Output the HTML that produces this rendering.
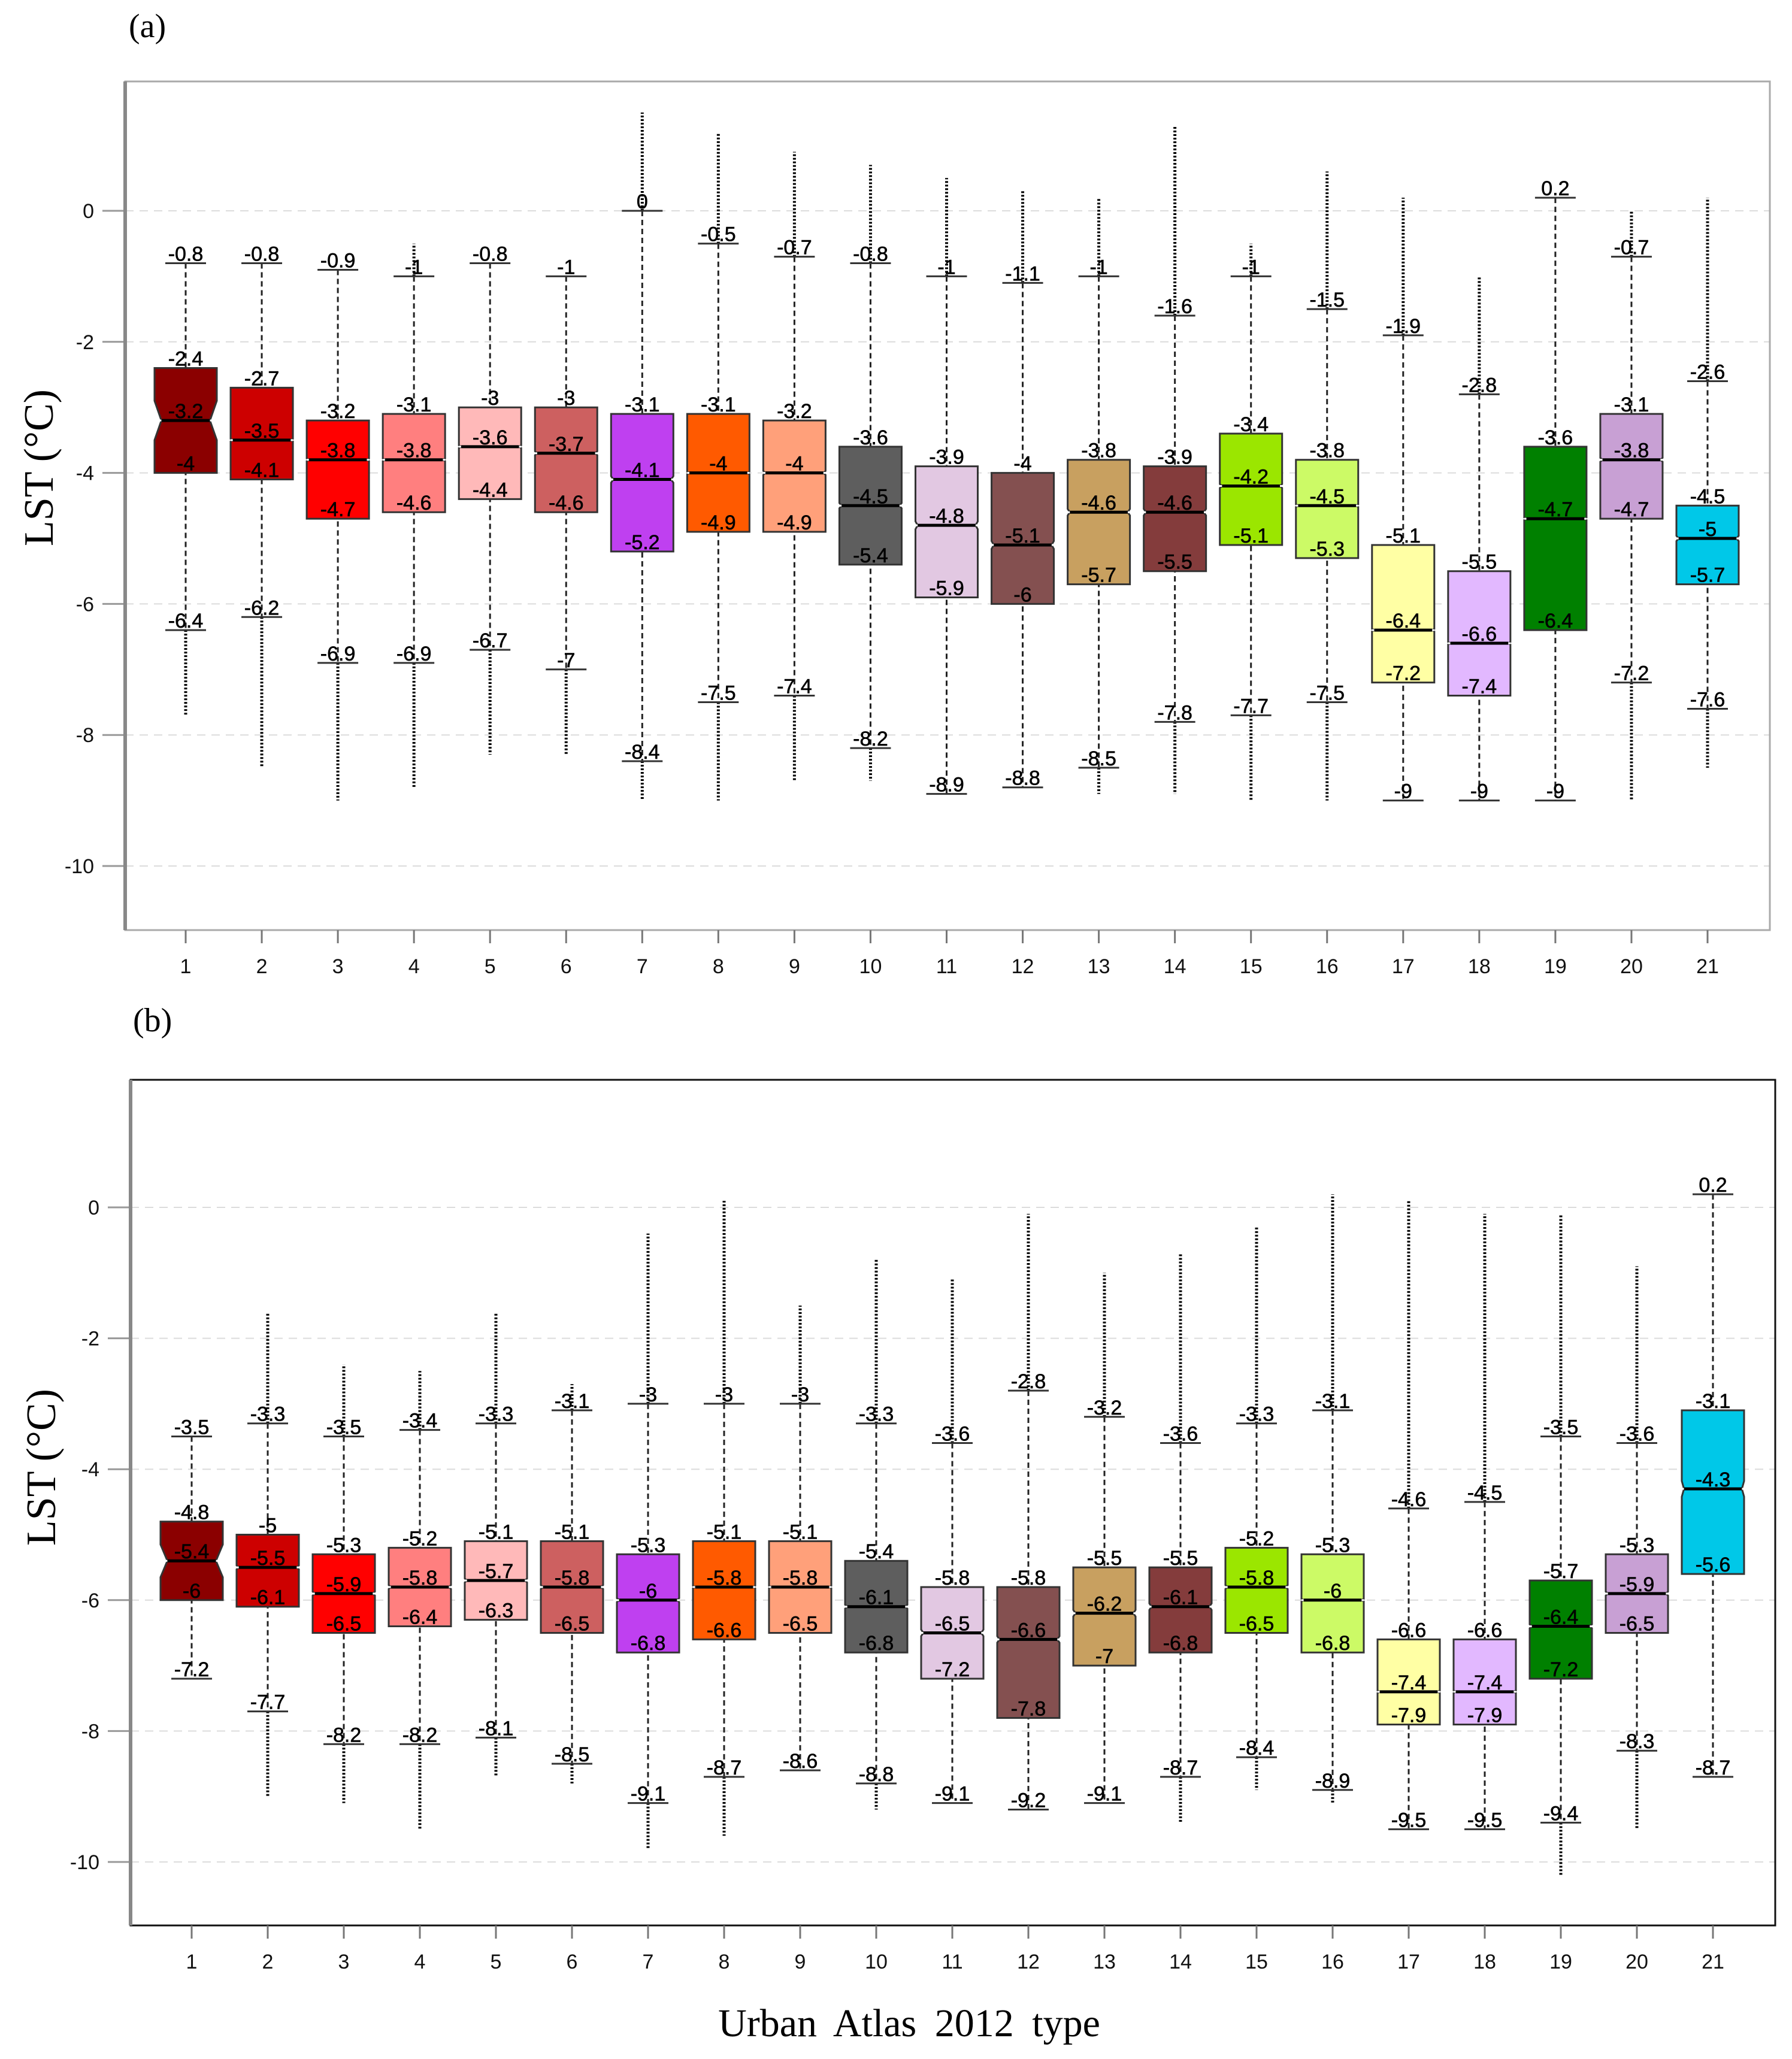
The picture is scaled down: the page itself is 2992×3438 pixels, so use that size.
<!DOCTYPE html>
<html><head><meta charset="utf-8"><style>
html,body{margin:0;padding:0;background:#fff;}
svg{display:block;}
text{font-family:"Liberation Sans",sans-serif;}
.serif{font-family:"Liberation Serif",serif;}
</style></head><body>
<svg id="chart" width="2992" height="3438" viewBox="0 0 2992 3438" xmlns="http://www.w3.org/2000/svg">
<rect width="2992" height="3438" fill="#fff"/>
<text class="serif" x="215" y="62" font-size="56">(a)</text>
<text class="serif" x="222" y="1722" font-size="56">(b)</text>
<text class="serif" x="1518" y="3400" font-size="66" text-anchor="middle" word-spacing="14">Urban Atlas 2012 type</text>
<text class="serif" transform="translate(88,781) rotate(-90)" font-size="70" text-anchor="middle">LST (°C)</text>
<text class="serif" transform="translate(92,2450) rotate(-90)" font-size="70" text-anchor="middle">LST (°C)</text>
</svg>
<script>
const categories = [1,2,3,4,5,6,7,8,9,10,11,12,13,14,15,16,17,18,19,20,21];
const colors = ["#8b0000","#cd0000","#ff0000","#ff7f7f","#ffb9b9","#cd6060","#bf40f0","#ff5a00","#ffa07a","#5e5e5e","#e2c8e2","#845050","#c8a060","#843c3c","#9be600","#ccfa66","#ffffa4","#e2b8ff","#008000","#c8a0d4","#00c8e8"];
const yTicks = [0,-2,-4,-6,-8,-10];
// panel a
const aWhiskTop = [-0.8,-0.8,-0.9,-1,-0.8,-1,0,-0.5,-0.7,-0.8,-1,-1.1,-1,-1.6,-1,-1.5,-1.9,-2.8,0.2,-0.7,-2.6];
const aQ3 = [-2.4,-2.7,-3.2,-3.1,-3,-3,-3.1,-3.1,-3.2,-3.6,-3.9,-4,-3.8,-3.9,-3.4,-3.8,-5.1,-5.5,-3.6,-3.1,-4.5];
const aMed = [-3.2,-3.5,-3.8,-3.8,-3.6,-3.7,-4.1,-4,-4,-4.5,-4.8,-5.1,-4.6,-4.6,-4.2,-4.5,-6.4,-6.6,-4.7,-3.8,-5];
const aQ1 = [-4,-4.1,-4.7,-4.6,-4.4,-4.6,-5.2,-4.9,-4.9,-5.4,-5.9,-6,-5.7,-5.5,-5.1,-5.3,-7.2,-7.4,-6.4,-4.7,-5.7];
const aWhiskLow = [-6.4,-6.2,-6.9,-6.9,-6.7,-7,-8.4,-7.5,-7.4,-8.2,-8.9,-8.8,-8.5,-7.8,-7.7,-7.5,-9,-9,-9,-7.2,-7.6];
const aOutHigh = [null,null,null,-0.5,null,null,1.5,1.2,0.9,0.7,0.5,0.3,0.2,1.3,-0.5,0.6,0.2,-1,null,0,0.2];
const aOutLow = [-7.7,-8.5,-9,-8.8,-8.3,-8.3,-9,-9,-8.7,-8.7,null,null,-8.9,-8.9,-9,-9,null,null,null,-9,-8.5];
const aNotch = [0.3,0.02,0.02,0.02,0.02,0.03,0.05,0.02,0.03,0.04,0.06,0.06,0.05,0.05,0.03,0.02,0.02,0.02,0.02,0.03,0.04];
// panel b
const bWhiskTop = [-3.5,-3.3,-3.5,-3.4,-3.3,-3.1,-3,-3,-3,-3.3,-3.6,-2.8,-3.2,-3.6,-3.3,-3.1,-4.6,-4.5,-3.5,-3.6,0.2];
const bQ3 = [-4.8,-5,-5.3,-5.2,-5.1,-5.1,-5.3,-5.1,-5.1,-5.4,-5.8,-5.8,-5.5,-5.5,-5.2,-5.3,-6.6,-6.6,-5.7,-5.3,-3.1];
const bMed = [-5.4,-5.5,-5.9,-5.8,-5.7,-5.8,-6,-5.8,-5.8,-6.1,-6.5,-6.6,-6.2,-6.1,-5.8,-6,-7.4,-7.4,-6.4,-5.9,-4.3];
const bQ1 = [-6,-6.1,-6.5,-6.4,-6.3,-6.5,-6.8,-6.6,-6.5,-6.8,-7.2,-7.8,-7,-6.8,-6.5,-6.8,-7.9,-7.9,-7.2,-6.5,-5.6];
const bWhiskLow = [-7.2,-7.7,-8.2,-8.2,-8.1,-8.5,-9.1,-8.7,-8.6,-8.8,-9.1,-9.2,-9.1,-8.7,-8.4,-8.9,-9.5,-9.5,-9.4,-8.3,-8.7];
const bOutHigh = [null,-1.6,-2.4,-2.5,-1.6,-2.7,-0.4,0.1,-1.5,-0.8,-1.1,-0.1,-1,-0.7,-0.3,0.2,0.1,-0.1,-0.1,-0.9,null];
const bOutLow = [null,-9,-9.1,-9.5,-8.7,-8.8,-9.8,-9.6,null,-9.2,null,null,null,-9.4,-8.9,-9.1,null,null,-10.2,-9.5,null];
const bNotch = [0.25,0.03,0.03,0.03,0.03,0.03,0.03,0.02,0.02,0.03,0.05,0.05,0.05,0.05,0.03,0.02,0.02,0.02,0.03,0.03,0.12];

const NS="http://www.w3.org/2000/svg";
const svg=document.getElementById('chart');
function mk(tag,attrs,parent){const e=document.createElementNS(NS,tag);for(const k in attrs)e.setAttribute(k,attrs[k]);(parent||svg).appendChild(e);return e;}
function fmt(v){return String(Math.round(v*10)/10);}

function panel(p){
  const g=mk('g',{});
  
  
  const yS=v=>p.y0+(p.y10-p.y0)*(v/-10);
  const xS=i=>p.x1+(p.x21-p.x1)*(i/20);
  yTicks.forEach(t=>{
    const l=mk('line',{x1:p.left,x2:p.right,y1:yS(t),y2:yS(t),stroke:'#dcdcdc','stroke-width':2,'stroke-dasharray':'14 10'},g);
    
    
    const tk=mk('line',{x1:p.left-38,x2:p.left,y1:yS(t),y2:yS(t),stroke:'#999','stroke-width':3},g);
    
    
    const tx=mk('text',{x:p.left-52,y:yS(t)+12,'font-size':34,'text-anchor':'end',fill:'#111'},g);
    tx.textContent=String(t);
    
    
  });
  const fr=mk('rect',{x:p.left,y:p.top,width:p.right-p.left,height:p.bottom-p.top,fill:'none',stroke:p.frame,'stroke-width':3},g);
  
  
  mk('line',{x1:p.left,x2:p.left,y1:p.top,y2:p.bottom,stroke:'#888','stroke-width':6},g);
  const hw=52, cap=34;
  categories.forEach((c,i)=>{
    const x=xS(i);
    const bg=mk('g',{},g);
    
    
    mk('line',{x1:x,x2:x,y1:p.bottom,y2:p.bottom+22,stroke:'#777','stroke-width':3},bg);
    const xl=mk('text',{x:x,y:p.bottom+72,'font-size':34,'text-anchor':'middle',fill:'#111'},bg);
    xl.textContent=String(c);
    
    
    if(p.oh[i]!==null){const o=mk('line',{x1:x,x2:x,y1:yS(p.wt[i]),y2:yS(p.oh[i]),stroke:'#000','stroke-width':5,'stroke-dasharray':'3 3'},bg);
      }
    if(p.ol[i]!==null){const o=mk('line',{x1:x,x2:x,y1:yS(p.wl[i]),y2:yS(p.ol[i]),stroke:'#000','stroke-width':5,'stroke-dasharray':'3 3'},bg);
      }
    const w=mk('line',{x1:x,x2:x,y1:yS(p.wt[i]),y2:yS(p.wl[i]),stroke:'#222','stroke-width':3,'stroke-dasharray':'9 6'},bg);
    
    [p.wt[i],p.wl[i]].forEach(v=>{mk('line',{x1:x-cap,x2:x+cap,y1:yS(v),y2:yS(v),stroke:'#333','stroke-width':3},bg);});
    const yq3=yS(p.q3[i]),yq1=yS(p.q1[i]),ym=yS(p.md[i]),n=p.nt[i]*(p.y10-p.y0)/10, ind=(p.nt[i]>0.2?hw*0.22:hw*0.07);
    const pts=[[x-hw,yq3],[x+hw,yq3],[x+hw,ym-n],[x+hw-ind,ym],[x+hw,ym+n],[x+hw,yq1],[x-hw,yq1],[x-hw,ym+n],[x-hw+ind,ym],[x-hw,ym-n]];
    const bx=mk('polygon',{points:pts.map(q=>q.join(',')).join(' '),fill:colors[i],stroke:'#333','stroke-width':3},bg);
    
    const ml=mk('line',{x1:x-hw+ind,x2:x+hw-ind,y1:ym,y2:ym,stroke:'#000','stroke-width':5},bg);
    
    mk('line',{x1:x-hw,x2:x-hw+ind,y1:ym,y2:ym,stroke:'#fff','stroke-width':3},bg);
    mk('line',{x1:x+hw-ind,x2:x+hw,y1:ym,y2:ym,stroke:'#fff','stroke-width':3},bg);
    [p.wt[i],p.q3[i],p.md[i],p.q1[i],p.wl[i]].forEach((v,k)=>{
      const t=mk('text',{x:x,y:yS(v)-4,'font-size':34,'text-anchor':'middle',fill:'#000',stroke:'#000','stroke-width':0.6},bg);
      t.textContent=fmt(v);
      
      
    });
  });
}
panel({name:'panel-a',left:209,right:2955,top:136,bottom:1553,y0:352,y10:1446,x1:310,x21:2851,frame:'#aaa',
  wt:aWhiskTop,q3:aQ3,md:aMed,q1:aQ1,wl:aWhiskLow,oh:aOutHigh,ol:aOutLow,nt:aNotch});
panel({name:'panel-b',left:218,right:2964,top:1803,bottom:3215,y0:2016,y10:3109,x1:320,x21:2860,frame:'#111',
  wt:bWhiskTop,q3:bQ3,md:bMed,q1:bQ1,wl:bWhiskLow,oh:bOutHigh,ol:bOutLow,nt:bNotch});
</script>
</body></html>
